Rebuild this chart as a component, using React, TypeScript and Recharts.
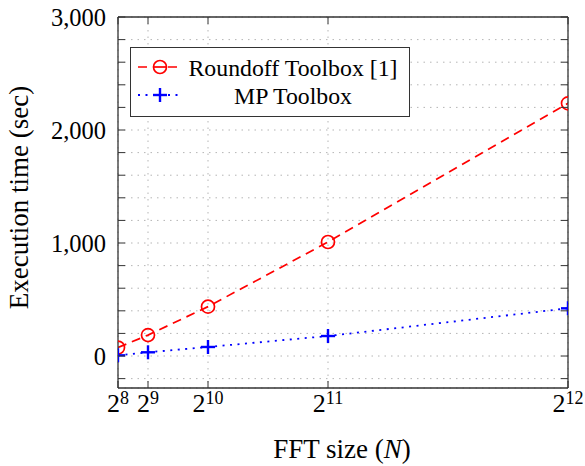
import { LineChart, Line, XAxis, YAxis, CartesianGrid, Label } from "recharts";

// FFT sizes (N) on the x axis
const FFT_SIZES = [256, 512, 1024, 2048, 4096];
// execution time in seconds
const ROUNDOFF_TIMES = [75, 185, 437, 1009, 2236];
const MP_TIMES = [6, 33, 80, 177, 422];

const Y_TICKS = [-200, 0, 200, 400, 600, 800, 1000, 1200, 1400, 1600, 1800, 2000, 2200, 2400, 2600, 2800, 3000];
const Y_LABELED = [0, 1000, 2000, 3000];
const SERIES_NAMES = ["Roundoff Toolbox [1]", "MP Toolbox"];

const data = FFT_SIZES.map((n, i) => ({ n, roundoff: ROUNDOFF_TIMES[i], mp: MP_TIMES[i] }));

const FONT = '"Liberation Serif", "Times New Roman", serif';
const FRAME = "#333";
const RED = "#ff0000";
const BLUE = "#0000ff";
const TICK_LEN = 7;
const Y_MARGIN = 12;
const X_MARGIN = 24;

function LeftTick(props: any) {
    const { x, y, payload } = props;
    const ax = x + Y_MARGIN;
    return (
        <g>
            <line x1={ax} x2={ax + TICK_LEN} y1={y} y2={y} stroke={FRAME} strokeWidth={1} />
            {Y_LABELED.includes(payload.value) && (
                <text x={x} y={y} dy="0.35em" textAnchor="end" fontSize={24.5} fontFamily={FONT} fill="#000">
                    {payload.value.toLocaleString("en-US")}
                </text>
            )}
        </g>
    );
}

function RightTick(props: any) {
    const { x, y } = props;
    return <line x1={x - TICK_LEN} x2={x} y1={y} y2={y} stroke={FRAME} strokeWidth={1} />;
}

function BottomTick(props: any) {
    const { x, y, payload } = props;
    const ay = y - X_MARGIN;
    const exp = Math.round(Math.log2(payload.value));
    return (
        <g>
            <line x1={x} x2={x} y1={ay} y2={ay - TICK_LEN} stroke={FRAME} strokeWidth={1} />
            <text x={x} y={ay + 24} textAnchor="middle" fontSize={26} fontFamily={FONT} fill="#000">
                <tspan>2</tspan>
                <tspan dy={-8} fontSize={18}>{exp}</tspan>
            </text>
        </g>
    );
}

function TopTick(props: any) {
    const { x, y } = props;
    return <line x1={x} x2={x} y1={y} y2={y + TICK_LEN} stroke={FRAME} strokeWidth={1} />;
}

function CircleDot(props: any) {
    const { cx, cy, index } = props;
    return <circle key={`c-${index}`} cx={cx} cy={cy} r={6.5} fill="none" stroke={RED} strokeWidth={1.7} />;
}

function PlusDot(props: any) {
    const { cx, cy, index } = props;
    return (
        <g key={`p-${index}`}>
            <line x1={cx - 7} x2={cx + 7} y1={cy} y2={cy} stroke={BLUE} strokeWidth={2.4} />
            <line x1={cx} x2={cx} y1={cy - 7} y2={cy + 7} stroke={BLUE} strokeWidth={2.4} />
        </g>
    );
}

function ChartLegend() {
    const rows = [20, 48];
    return (
        <div
            style={{
                position: "absolute",
                left: 130,
                top: 47,
                width: 280,
                height: 70,
                boxSizing: "border-box",
                border: `1.3px solid ${FRAME}`,
                background: "#fff",
            }}
        >
            <svg width={278} height={68} style={{ display: "block" }}>
                <line x1={7} x2={49} y1={rows[0] - 1} y2={rows[0] - 1} stroke={RED} strokeWidth={1.7} strokeDasharray="9 6" />
                <circle cx={29} cy={rows[0] - 1} r={6.5} fill="#fff" stroke={RED} strokeWidth={1.7} />
                <line x1={29 - 6.5} x2={29 + 6.5} y1={rows[0] - 1} y2={rows[0] - 1} stroke={RED} strokeWidth={1.7} />
                <line x1={7} x2={49} y1={rows[1] - 1} y2={rows[1] - 1} stroke={BLUE} strokeWidth={1.8} strokeDasharray="2 5.5" />
                <line x1={22} x2={36} y1={rows[1] - 1} y2={rows[1] - 1} stroke={BLUE} strokeWidth={2.4} />
                <line x1={29} x2={29} y1={rows[1] - 8} y2={rows[1] + 6} stroke={BLUE} strokeWidth={2.4} />
                {SERIES_NAMES.map((name, i) => (
                    <text key={name} x={162} y={rows[i]} dy="0.32em" textAnchor="middle" fontSize={23.8} fontFamily={FONT} fill="#000">
                        {name}
                    </text>
                ))}
            </svg>
        </div>
    );
}

export default function App() {
    return (
        <div style={{ position: "absolute", left: 0, top: 0, width: 585, height: 466, background: "#fff" }}>
            <LineChart width={585} height={466} data={data} margin={{ top: 16, right: 16, bottom: 0, left: 0 }}>
                <CartesianGrid stroke="#b5b5b5" strokeDasharray="1.5 5" />
                <XAxis
                    dataKey="n"
                    type="number"
                    domain={[256, 4096]}
                    ticks={FFT_SIZES}
                    height={78}
                    tickSize={0}
                    tickMargin={X_MARGIN}
                    tickLine={false}
                    axisLine={{ stroke: FRAME, strokeWidth: 1.3 }}
                    tick={<BottomTick />}
                    allowDataOverflow
                >
                    <Label
                        content={(p: any) => (
                            <text
                                x={p.viewBox.x + p.viewBox.width / 2 - 1}
                                y={p.viewBox.y + 70}
                                textAnchor="middle"
                                fontSize={27}
                                fontFamily={FONT}
                                fill="#000"
                            >
                                FFT size (<tspan fontStyle="italic">N</tspan>)
                            </text>
                        )}
                    />
                </XAxis>
                <XAxis
                    xAxisId="top"
                    orientation="top"
                    dataKey="n"
                    type="number"
                    domain={[256, 4096]}
                    ticks={FFT_SIZES}
                    height={1}
                    tickSize={0}
                    tickMargin={0}
                    tickLine={false}
                    axisLine={{ stroke: FRAME, strokeWidth: 1.3 }}
                    tick={<TopTick />}
                    allowDataOverflow
                />
                <YAxis
                    type="number"
                    domain={[-283, 3000]}
                    ticks={Y_TICKS}
                    width={118}
                    tickSize={0}
                    tickMargin={Y_MARGIN}
                    tickLine={false}
                    axisLine={{ stroke: FRAME, strokeWidth: 1.3 }}
                    tick={<LeftTick />}
                    interval={0}
                    allowDataOverflow
                >
                    <Label
                        content={(p: any) => {
                            const cx = p.viewBox.x + 19;
                            const cy = p.viewBox.y + p.viewBox.height / 2 - 5;
                            return (
                                <text
                                    x={cx}
                                    y={cy}
                                    dy="0.35em"
                                    transform={`rotate(-90 ${cx} ${cy})`}
                                    textAnchor="middle"
                                    fontSize={27}
                                    fontFamily={FONT}
                                    fill="#000"
                                >
                                    Execution time (sec)
                                </text>
                            );
                        }}
                    />
                </YAxis>
                <YAxis
                    yAxisId="right"
                    orientation="right"
                    type="number"
                    domain={[-283, 3000]}
                    ticks={Y_TICKS}
                    width={1}
                    tickSize={0}
                    tickMargin={0}
                    tickLine={false}
                    axisLine={{ stroke: FRAME, strokeWidth: 1.3 }}
                    tick={<RightTick />}
                    interval={0}
                    allowDataOverflow
                />
                <Line
                    type="linear"
                    dataKey="roundoff"
                    name={SERIES_NAMES[0]}
                    stroke={RED}
                    strokeWidth={1.7}
                    strokeDasharray="9 6"
                    dot={CircleDot}
                    activeDot={false}
                    isAnimationActive={false}
                />
                <Line
                    type="linear"
                    dataKey="mp"
                    name={SERIES_NAMES[1]}
                    stroke={BLUE}
                    strokeWidth={1.8}
                    strokeDasharray="2 5.5"
                    dot={PlusDot}
                    activeDot={false}
                    isAnimationActive={false}
                />
            </LineChart>
            <ChartLegend />
        </div>
    );
}
